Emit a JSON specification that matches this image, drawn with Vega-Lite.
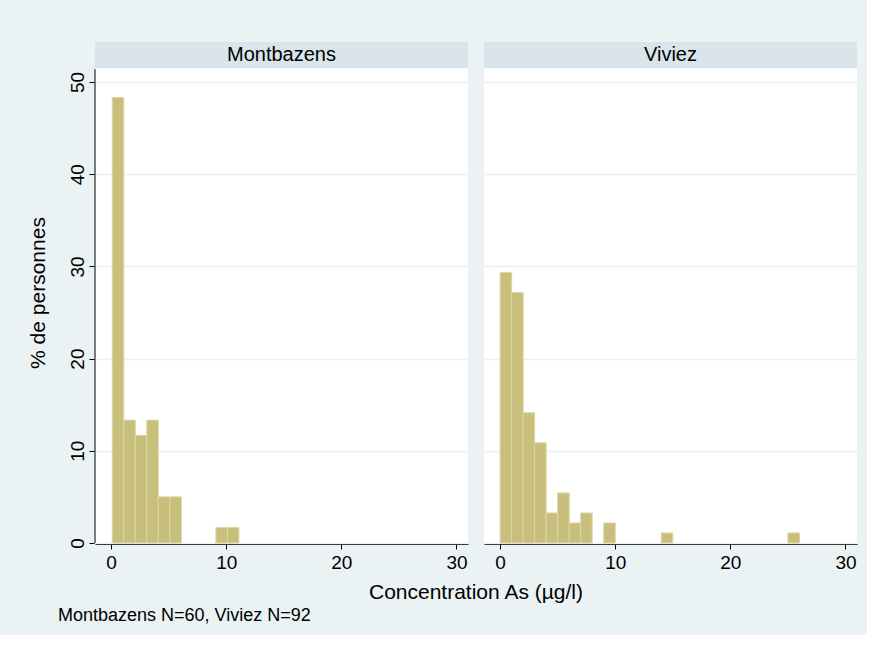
{
  "$schema": "https://vega.github.io/schema/vega-lite/v6.json",
  "background": "#eaf2f3",
  "padding": {"left": 27, "top": 42, "right": 10, "bottom": 10},
  "data": {"values": [
    {"kind": "bar", "town": "Montbazens", "x0": 0.1, "x1": 1.1, "pct": 48.33},
    {"kind": "bar", "town": "Montbazens", "x0": 1.1, "x1": 2.1, "pct": 13.33},
    {"kind": "bar", "town": "Montbazens", "x0": 2.1, "x1": 3.1, "pct": 11.67},
    {"kind": "bar", "town": "Montbazens", "x0": 3.1, "x1": 4.1, "pct": 13.33},
    {"kind": "bar", "town": "Montbazens", "x0": 4.1, "x1": 5.1, "pct": 5.0},
    {"kind": "bar", "town": "Montbazens", "x0": 5.1, "x1": 6.1, "pct": 5.0},
    {"kind": "bar", "town": "Montbazens", "x0": 9.1, "x1": 10.1, "pct": 1.67},
    {"kind": "bar", "town": "Montbazens", "x0": 10.1, "x1": 11.1, "pct": 1.67},
    {"kind": "bar", "town": "Viviez", "x0": 0, "x1": 1, "pct": 29.35},
    {"kind": "bar", "town": "Viviez", "x0": 1, "x1": 2, "pct": 27.17},
    {"kind": "bar", "town": "Viviez", "x0": 2, "x1": 3, "pct": 14.13},
    {"kind": "bar", "town": "Viviez", "x0": 3, "x1": 4, "pct": 10.87},
    {"kind": "bar", "town": "Viviez", "x0": 4, "x1": 5, "pct": 3.26},
    {"kind": "bar", "town": "Viviez", "x0": 5, "x1": 6, "pct": 5.43},
    {"kind": "bar", "town": "Viviez", "x0": 6, "x1": 7, "pct": 2.17},
    {"kind": "bar", "town": "Viviez", "x0": 7, "x1": 8, "pct": 3.26},
    {"kind": "bar", "town": "Viviez", "x0": 9, "x1": 10, "pct": 2.17},
    {"kind": "bar", "town": "Viviez", "x0": 14, "x1": 15, "pct": 1.09},
    {"kind": "bar", "town": "Viviez", "x0": 25, "x1": 26, "pct": 1.09},
    {"kind": "header", "town": "Montbazens"},
    {"kind": "header", "town": "Viviez"}
  ]},
  "facet": {"column": {"field": "town", "type": "nominal", "title": "Concentration As (µg/l)",
    "header": {"labels": false, "titleOrient": "bottom", "titleFontSize": 21, "titleFontWeight": "normal",
               "titleColor": "black", "titleFont": "Liberation Sans", "titlePadding": 0}}},
  "spacing": 16,
  "spec": {
    "width": 373,
    "height": 501,
    "view": {"fill": "white", "stroke": null},
    "layer": [
      {
        "transform": [{"filter": "datum.kind === 'bar'"}],
        "mark": {"type": "rect", "fill": "#c8bf7d", "stroke": "#dcd6a4", "strokeWidth": 1},
        "encoding": {
          "x": {"field": "x0", "type": "quantitative", "scale": {"domain": [-1.4, 31], "nice": false, "zero": false},
                "axis": {"values": [0, 10, 20, 30], "title": null, "grid": false, "labelPadding": 4}},
          "x2": {"field": "x1"},
          "y": {"field": "pct", "type": "quantitative", "scale": {"domain": [0, 54.34], "nice": false},
                "axis": {"values": [0, 10, 20, 30, 40, 50], "title": "% de personnes", "domain": false, "grid": true,
                         "labelAngle": -90, "labelAlign": "center", "labelBaseline": "bottom", "labelPadding": 2, "titlePadding": 20}},
          "y2": {"datum": 0}
        }
      },
      {
        "transform": [{"filter": "datum.kind === 'header'"}],
        "mark": {"type": "rect", "fill": "#d9e5ea"},
        "encoding": {"x": {"datum": -1.4}, "x2": {"datum": 31}, "y": {"datum": 51.5}, "y2": {"datum": 54.34}}
      },
      {
        "transform": [{"filter": "datum.kind === 'header'"}],
        "mark": {"type": "text", "fontSize": 20, "baseline": "middle", "align": "center", "color": "black", "font": "Liberation Sans"},
        "encoding": {"x": {"datum": 14.8}, "y": {"datum": 52.9}, "text": {"field": "town"}}
      },
      {
        "transform": [{"filter": "datum.kind === 'header' && datum.town === 'Montbazens'"}],
        "mark": {"type": "rule", "color": "black", "strokeWidth": 1},
        "encoding": {"x": {"datum": -1.4}, "y": {"datum": 0}, "y2": {"datum": 51.4}}
      }
    ]
  },
  "title": {"text": "Montbazens N=60, Viviez N=92", "orient": "bottom", "anchor": "start", "frame": "bounds",
            "fontSize": 18, "fontWeight": "normal", "color": "black", "font": "Liberation Sans", "dx": 31, "offset": 4},
  "config": {
    "font": "Liberation Sans",
    "axis": {"domainColor": "black", "tickColor": "black", "labelColor": "black", "titleColor": "black",
             "labelFontSize": 19, "titleFontSize": 21, "titleFontWeight": "normal", "tickSize": 5,
             "gridColor": "#eaf2f3", "gridWidth": 1.5, "labelFont": "Liberation Sans", "titleFont": "Liberation Sans"}
  }
}
